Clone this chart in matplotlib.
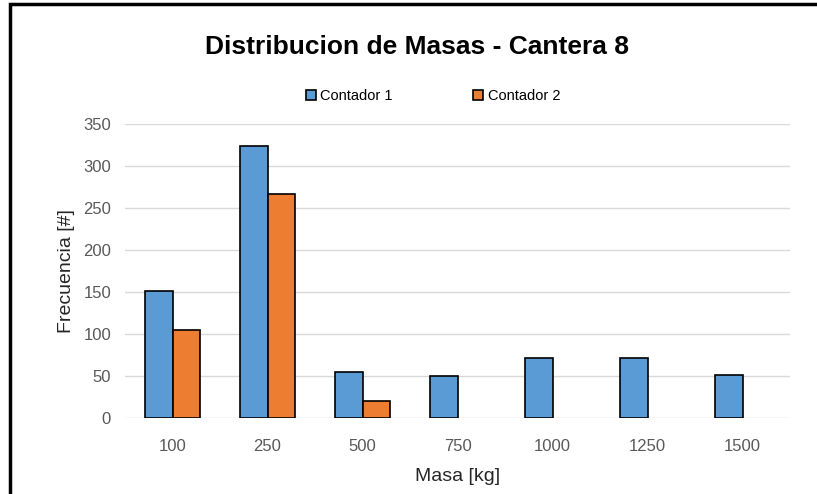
import numpy as np
import matplotlib.pyplot as plt
from matplotlib.patches import Rectangle

# Masses (kg) and counts for each counter
masas = ['100', '250', '500', '750', '1000', '1250', '1500']
contador_1 = [151, 324, 55, 50, 71, 71, 51]
contador_2 = [105, 267, 20, 0, 0, 0, 0]

plt.rcParams['font.family'] = ['Liberation Sans', 'DejaVu Sans']

fig = plt.figure(figsize=(8.17, 4.94), dpi=100)
ax = fig.add_axes([0.153, 0.154, 0.814, 0.595])

x = np.arange(len(masas))
w = 0.285
b1 = ax.bar(x - w / 2, contador_1, w, color='#5B9BD5', edgecolor='black', linewidth=1.2,
            label='Contador 1', zorder=3)
b2 = ax.bar(x + w / 2, contador_2, w, color='#ED7D31', edgecolor='black', linewidth=1.2,
            label='Contador 2', zorder=3)
# empty classes: no outline
for bar in list(b1) + list(b2):
    if bar.get_height() == 0:
        bar.set_linewidth(0)

ax.set_xlim(-0.5, len(masas) - 0.5)
ax.set_ylim(0, 350)
ax.set_yticks(range(0, 351, 50))
ax.set_xticks(x)
ax.set_xticklabels(masas)
ax.yaxis.grid(True, color='#D9D9D9', linewidth=1.0, zorder=0)
for s in ax.spines.values():
    s.set_visible(False)
ax.tick_params(axis='x', length=0, labelsize=12, colors='#595959', pad=15)
ax.tick_params(axis='y', length=0, labelsize=12, colors='#595959', pad=10)

ax.set_xlabel('Masa [kg]', fontsize=14, color='#262626', labelpad=10)
ax.set_ylabel('Frecuencia [#]', fontsize=14, color='#262626', labelpad=6)

fig.text(0.51, 0.905, 'Distribucion de Masas - Cantera 8', ha='center', va='center',
         fontsize=19, fontweight='bold', color='black')
fig.legend(loc='center', bbox_to_anchor=(0.53, 0.805), ncol=2, frameon=False,
           fontsize=10.5, handlelength=0.7, handleheight=0.7, columnspacing=5.5,
           handletextpad=0.3)

# outer border
fig.add_artist(Rectangle((10 / 817, -0.05), 1.0, 1.0 - 4 / 494 + 0.05,
                         transform=fig.transFigure, fill=False,
                         edgecolor='black', linewidth=2.5))

fig.savefig('out.png', dpi=100)
